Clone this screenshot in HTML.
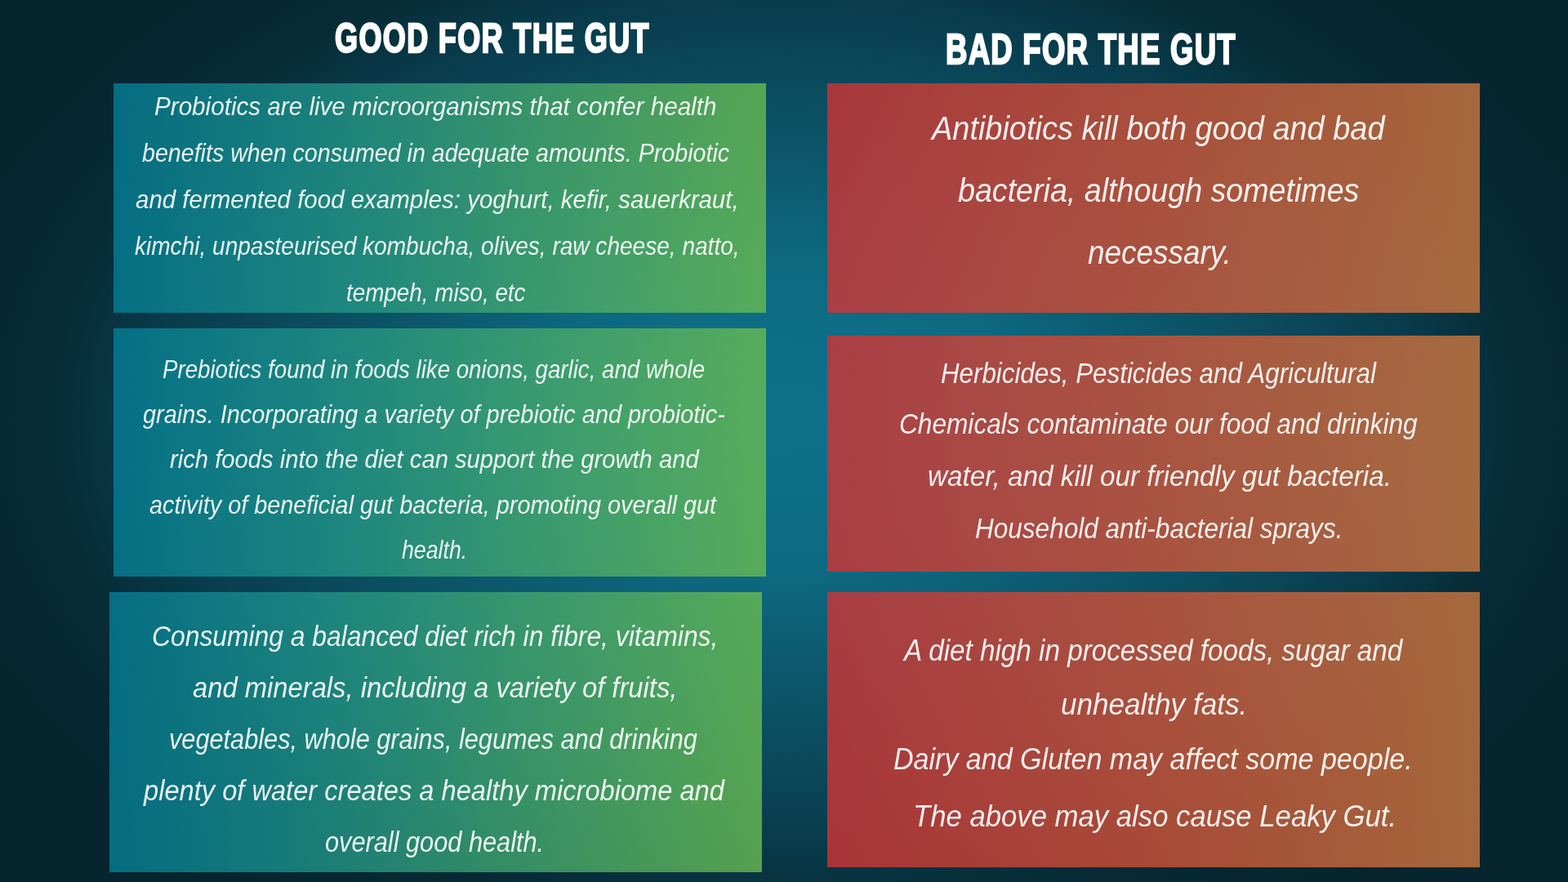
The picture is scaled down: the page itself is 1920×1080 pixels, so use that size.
<!DOCTYPE html>
<html lang="en">
<head>
<meta charset="utf-8">
<title>Good for the gut / Bad for the gut</title>
<style>
*{margin:0;padding:0;box-sizing:border-box}
html,body{width:1920px;height:1080px;overflow:hidden;background:#06252e}
body{position:relative;font-family:"Liberation Sans",sans-serif;color:#fff}
.bg{position:absolute;left:0;top:0;width:1920px;height:1080px;background:radial-gradient(ellipse 1250px 833px at 960px 512px, rgb(14,112,137) 0.0%, rgb(14,112,137) 3.7%, rgb(14,111,136) 7.4%, rgb(14,110,135) 11.1%, rgb(14,109,133) 14.8%, rgb(13,107,131) 18.5%, rgb(13,105,129) 22.2%, rgb(13,102,126) 25.9%, rgb(12,97,120) 29.6%, rgb(12,93,115) 33.3%, rgb(12,88,109) 37.0%, rgb(12,84,104) 40.7%, rgb(11,80,99) 44.4%, rgb(11,76,94) 48.1%, rgb(11,72,89) 51.9%, rgb(10,67,85) 55.6%, rgb(9,63,79) 59.3%, rgb(8,58,74) 63.0%, rgb(8,52,66) 66.7%, rgb(7,46,58) 70.4%, rgb(7,42,53) 74.1%, rgb(6,40,50) 77.8%, rgb(6,39,49) 81.5%, rgb(6,38,47) 85.2%, rgb(6,37,46) 88.9%, rgb(6,37,46) 92.6%, rgb(6,36,45) 96.3%, rgb(6,36,45) 100.0%)}
.box{position:absolute}
.g{background:linear-gradient(90deg, rgba(4,126,150,.8) 0%, rgba(34,148,134,.8) 35%, rgba(68,167,108,.8) 65%, rgba(105,187,80,.8) 100%)}
.r{background:linear-gradient(90deg, rgba(208,50,52,.8) 0%, rgba(208,82,54,.8) 50%, rgba(204,120,64,.8) 100%)}
h1{position:absolute;white-space:nowrap;line-height:1;font-weight:bold;transform-origin:0 0;color:#ffffff;-webkit-text-stroke:2.4px #ffffff}
p{position:absolute;left:0;top:0}
.l{position:absolute;white-space:nowrap;line-height:1;font-style:italic;font-weight:normal;transform-origin:0 0;color:rgba(255,255,255,0.9)}
.g1 .l{font-size:31.2px}
.g2 .l{font-size:30.9px}
.g3 .l{font-size:34.4px}
.r1 .l{font-size:40.6px}
.r2 .l{font-size:34.5px}
.r3 .l{font-size:36.9px}
</style>
</head>
<body>
<div class="bg"></div>
<main>
<article>
<h1 style="left:409.79px;top:21.7px;font-size:50.8px;letter-spacing:1.9px;transform:scaleX(0.7094)">GOOD FOR THE GUT</h1>
<section class="box g g1" style="left:139px;top:102px;width:799px;height:281px">
<p>
<span class="l" style="left:50.05px;top:12.5px;transform:scaleX(0.9501)">Probiotics are live microorganisms that confer health</span>
<span class="l" style="left:35px;top:70px;transform:scaleX(0.9176)">benefits when consumed in adequate amounts. Probiotic</span>
<span class="l" style="left:26.56px;top:127px;transform:scaleX(0.9447)">and fermented food examples: yoghurt, kefir, sauerkraut,</span>
<span class="l" style="left:26px;top:184px;transform:scaleX(0.8994)">kimchi, unpasteurised kombucha, olives, raw cheese, natto,</span>
<span class="l" style="left:285.11px;top:240.5px;transform:scaleX(0.8918)">tempeh, miso, etc</span>
</p>
</section>
<section class="box g g2" style="left:139px;top:402px;width:799px;height:304px">
<p>
<span class="l" style="left:60.1px;top:36px;transform:scaleX(0.8953)">Prebiotics found in foods like onions, garlic, and whole</span>
<span class="l" style="left:36px;top:91.2px;transform:scaleX(0.935)">grains. Incorporating a variety of prebiotic and probiotic-</span>
<span class="l" style="left:68.5px;top:146.4px;transform:scaleX(0.9453)">rich foods into the diet can support the growth and</span>
<span class="l" style="left:44.07px;top:201.6px;transform:scaleX(0.9335)">activity of beneficial gut bacteria, promoting overall gut</span>
<span class="l" style="left:352.5px;top:256.8px;transform:scaleX(0.8652)">health.</span>
</p>
</section>
<section class="box g g3" style="left:134px;top:725px;width:799px;height:343px">
<p>
<span class="l" style="left:51.65px;top:37.2px;transform:scaleX(0.9253)">Consuming a balanced diet rich in fibre, vitamins,</span>
<span class="l" style="left:101.55px;top:100.2px;transform:scaleX(0.9523)">and minerals, including a variety of fruits,</span>
<span class="l" style="left:73.21px;top:163.2px;transform:scaleX(0.8927)">vegetables, whole grains, legumes and drinking</span>
<span class="l" style="left:41.95px;top:226.2px;transform:scaleX(0.9487)">plenty of water creates a healthy microbiome and</span>
<span class="l" style="left:264.11px;top:289.2px;transform:scaleX(0.8932)">overall good health.</span>
</p>
</section>
</article>
<article>
<h1 style="left:1158.18px;top:34.7px;font-size:51.4px;letter-spacing:1.77px;transform:scaleX(0.7111)">BAD FOR THE GUT</h1>
<section class="box r r1" style="left:1013px;top:102px;width:799px;height:280.5px">
<p>
<span class="l" style="left:127.87px;top:35px;transform:scaleX(0.9346)">Antibiotics kill both good and bad</span>
<span class="l" style="left:160.07px;top:111.3px;transform:scaleX(0.9271)">bacteria, although sometimes</span>
<span class="l" style="left:318.59px;top:187.1px;transform:scaleX(0.9091)">necessary.</span>
</p>
</section>
<section class="box r r2" style="left:1013px;top:411px;width:799px;height:288.5px">
<p>
<span class="l" style="left:138.59px;top:29px;transform:scaleX(0.9072)">Herbicides, Pesticides and Agricultural</span>
<span class="l" style="left:87.67px;top:91px;transform:scaleX(0.9167)">Chemicals contaminate our food and drinking</span>
<span class="l" style="left:122.57px;top:155px;transform:scaleX(0.9648)">water, and kill our friendly gut bacteria.</span>
<span class="l" style="left:181.09px;top:218.5px;transform:scaleX(0.9139)">Household anti-bacterial sprays.</span>
</p>
</section>
<section class="box r r3" style="left:1013px;top:725px;width:799px;height:336.5px">
<p>
<span class="l" style="left:93.8px;top:54px;transform:scaleX(0.9009)">A diet high in processed foods, sugar and</span>
<span class="l" style="left:286.05px;top:120.3px;transform:scaleX(0.9511)">unhealthy fats.</span>
<span class="l" style="left:81.08px;top:186.7px;transform:scaleX(0.9225)">Dairy and Gluten may affect some people.</span>
<span class="l" style="left:105.18px;top:256.9px;transform:scaleX(0.9405)">The above may also cause Leaky Gut.</span>
</p>
</section>
</article>
</main>
</body>
</html>
